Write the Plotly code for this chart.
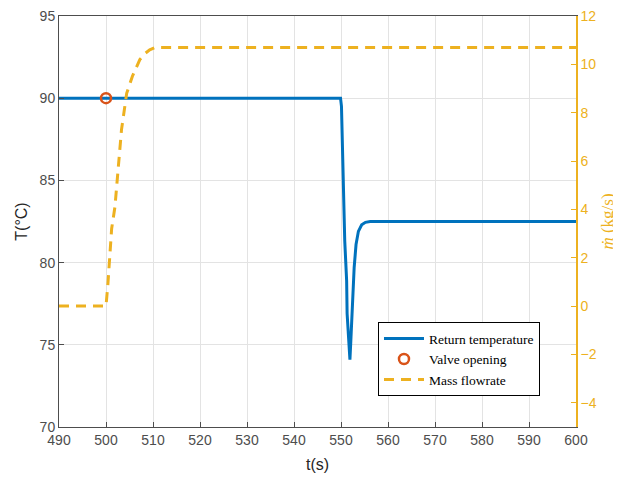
import plotly.graph_objects as go

# Return temperature
t_temp = [490, 549.9, 550.1, 550.3, 550.6, 550.8, 551.2, 551.3, 551.6, 551.9,
          552.1, 552.3, 552.5, 552.8, 553.2, 553.7, 554.4, 555.2, 556.2, 600]
T_ret = [90, 90, 89.5, 87.0, 84.5, 81.3, 78.9, 76.9, 75.5, 74.1,
         75.3, 76.9, 78.1, 79.7, 81.1, 81.9, 82.3, 82.45, 82.5, 82.5]

# Valve opening
t_valve = [500]
T_valve = [90]

# Mass flowrate
t_m = [490, 500, 500.4, 500.7, 501.2, 501.9, 502.6, 503.3, 504.4, 505.6,
       507.2, 508.3, 509.3, 510.5, 600]
m_dot = [0, 0, 0.9, 1.8, 3.2, 4.1, 5.65, 7.3, 8.8, 9.5,
         10.2, 10.45, 10.6, 10.7, 10.7]

x_ticks = list(range(490, 601, 10))
yl_ticks = [70, 75, 80, 85, 90, 95]
yr_ticks = [-4, -2, 0, 2, 4, 6, 8, 10, 12]

BLUE = "#0072BD"
ORANGE = "#EDB120"
RED = "#D95319"
AX = "#4D4D4D"

fig = go.Figure()
fig.add_trace(go.Scatter(x=t_temp, y=T_ret, mode="lines", name="Return temperature",
                         line=dict(color=BLUE, width=3)))
fig.add_trace(go.Scatter(x=t_valve, y=T_valve, mode="markers", name="Valve opening",
                         marker=dict(symbol="circle-open", size=10, color=RED,
                                     line=dict(width=2.5, color=RED))))
fig.add_trace(go.Scatter(x=t_m, y=m_dot, mode="lines", name="Mass flowrate", yaxis="y2",
                         line=dict(color=ORANGE, width=3, dash="10px,7px")))

fig.update_layout(
    width=613, height=472,
    margin=dict(l=51, r=45, t=8, b=53),
    paper_bgcolor="white", plot_bgcolor="white",
    font=dict(family="Liberation Sans, Arial, sans-serif", size=14, color=AX),
    showlegend=True,
    legend=dict(x=0.617, y=0.255, xanchor="left", yanchor="top",
                bgcolor="white", bordercolor="black", borderwidth=1,
                font=dict(family="Liberation Serif, Times New Roman, serif", size=13.5, color="black"),
                tracegroupgap=0, itemwidth=40),
    xaxis=dict(range=[490, 600], tickvals=x_ticks, ticks="inside", ticklen=5,
               tickcolor=AX, showgrid=True, gridcolor="#E3E3E3", gridwidth=1,
               showline=True, linecolor=AX, linewidth=1, mirror=True, zeroline=False,
               automargin=False, ticklabeloverflow="allow",
               title=dict(text="t(s)", font=dict(size=16, color="#262626"), standoff=12)),
    yaxis=dict(range=[70, 95], tickvals=yl_ticks, ticks="inside", ticklen=5,
               tickcolor=AX, showgrid=True, gridcolor="#E3E3E3", gridwidth=1,
               showline=True, linecolor=AX, linewidth=1, zeroline=False,
               automargin=False, ticklabeloverflow="allow",
               title=dict(text="T(°C)", font=dict(size=16, color="#262626"), standoff=8)),
    yaxis2=dict(range=[-5, 12], tickvals=yr_ticks, overlaying="y", side="right",
                ticks="inside", ticklen=5, tickcolor=ORANGE,
                tickfont=dict(color=ORANGE, size=14),
                showgrid=False, zeroline=False, showline=True, linecolor=ORANGE, linewidth=1.5,
                automargin=False, ticklabeloverflow="allow",
                title=dict(text="<i>ṁ</i> (kg/s)",
                           font=dict(family="Liberation Serif, Times New Roman, serif",
                                     size=17, color=ORANGE), standoff=5)),
)

fig.write_html("out.html")
